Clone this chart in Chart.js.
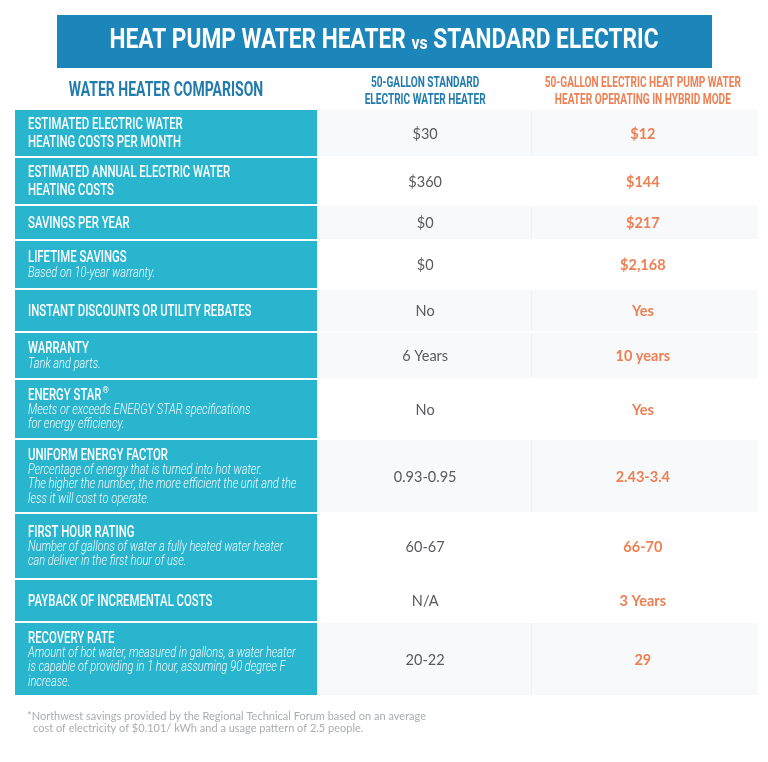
<!DOCTYPE html>
<html>
<head>
<meta charset="utf-8">
<script src="https://cdn.jsdelivr.net/npm/chart.js@4.4.1/dist/chart.umd.min.js"></script>
<style>
  html, body { margin: 0; padding: 0; background: #fff; }
  canvas { display: block; }
</style>
</head>
<body>
<canvas id="table" width="768" height="762"></canvas>
<script>
// data
const mainTitle = ["HEAT PUMP WATER HEATER ", "vs", " STANDARD ELECTRIC"];
const sectionHeader = "WATER HEATER COMPARISON";
const standardHeader = ["50-GALLON STANDARD", "ELECTRIC WATER HEATER"];
const heatPumpHeader = ["50-GALLON ELECTRIC HEAT PUMP WATER", "HEATER OPERATING IN HYBRID MODE"];

const rowTitles = [
  ["ESTIMATED ELECTRIC WATER", "HEATING COSTS PER MONTH"],
  ["ESTIMATED ANNUAL ELECTRIC WATER", "HEATING COSTS"],
  ["SAVINGS PER YEAR"],
  ["LIFETIME SAVINGS"],
  ["INSTANT DISCOUNTS OR UTILITY REBATES"],
  ["WARRANTY"],
  ["ENERGY STAR"],
  ["UNIFORM ENERGY FACTOR"],
  ["FIRST HOUR RATING"],
  ["PAYBACK OF INCREMENTAL COSTS"],
  ["RECOVERY RATE"]
];
const rowNotes = [
  [],
  [],
  [],
  ["Based on 10-year warranty."],
  [],
  ["Tank and parts."],
  ["Meets or exceeds ENERGY STAR specifications", "for energy efficiency."],
  ["Percentage of energy that is turned into hot water.",
   "The higher the number, the more efficient the unit and the",
   "less it will cost to operate."],
  ["Number of gallons of water a fully heated water heater",
   "can deliver in the first hour of use."],
  [],
  ["Amount of hot water, measured in gallons, a water heater",
   "is capable of providing in 1 hour, assuming 90 degree F",
   "increase."]
];
const standardValues = ["$30", "$360", "$0", "$0", "No", "6 Years", "No", "0.93-0.95", "60-67", "N/A", "20-22"];
const heatPumpValues = ["$12", "$144", "$217", "$2,168", "Yes", "10 years", "Yes", "2.43-3.4", "66-70", "3 Years", "29"];
const footnote = [
  "*Northwest savings provided by the Regional Technical Forum based on an average",
  "cost of electricity of $0.101/ kWh and a usage pattern of 2.5 people."
];

// layout
const rowPitch = [48, 48, 35, 49, 43, 47, 60, 74, 66, 43, 74];
const shadedRows = [0, 2, 4, 5, 7, 10];
const ROW_GAP = 2;
const LABEL_END = 40.65, COL_SPLIT = 69.45, STD_CENTER = 55.2, HP_CENTER = 84.5;
const CYAN = "rgb(42,181,207)";
const BANNER = "rgb(28,133,186)";
const HEAD_BLUE = "rgb(33,124,173)";
const ORANGE = "rgb(238,127,82)";
const COND = "Roboto, 'Liberation Sans', sans-serif";

// draws text squeezed horizontally to look like a condensed face
function squeezeText(ctx, text, x, y, font, color, align, squeeze) {
  ctx.save();
  ctx.font = font;
  ctx.fillStyle = color;
  ctx.textBaseline = "middle";
  ctx.textAlign = "left";
  const w = ctx.measureText(text).width * squeeze;
  let left = x;
  if (align === "center") left = x - w / 2;
  if (align === "right") left = x - w;
  ctx.translate(left, y);
  ctx.scale(squeeze, 1);
  ctx.fillText(text, 0, 0);
  ctx.restore();
  return w;
}

const tablePlugin = {
  id: "tableCells",
  beforeDraw(chart) {
    const ctx = chart.ctx;
    ctx.save();
    ctx.fillStyle = "#fff";
    ctx.fillRect(0, 0, chart.width, chart.height);
    ctx.restore();
  },
  beforeDatasetsDraw(chart) {
    const { ctx, scales: { x, y } } = chart;
    const xl = x.getPixelForValue(0);
    const xe = x.getPixelForValue(LABEL_END);
    const xs = x.getPixelForValue(COL_SPLIT);
    const xr = x.getPixelForValue(100);
    let start = 0;
    rowPitch.forEach((pitch, i) => {
      const top = y.getPixelForValue(start);
      const bottom = y.getPixelForValue(start + pitch) - ROW_GAP;
      const mid = (top + bottom) / 2;
      start += pitch;

      // shaded value cells
      if (shadedRows.includes(i)) {
        ctx.fillStyle = "rgba(228,234,240,0.3)";
        ctx.fillRect(xe, top, xr - xe, bottom - top);
        ctx.fillStyle = "rgba(220,226,232,0.3)";
        ctx.fillRect(xs, top, 1, bottom - top);
      }
      // label cell
      ctx.fillStyle = CYAN;
      ctx.fillRect(xl, top, xe - xl, bottom - top);

      // label text block, vertically centred
      const titles = rowTitles[i];
      const notes = rowNotes[i];
      const titleLH = 17.5, noteLH = 14.3;
      const blockH = titles.length * titleLH + notes.length * noteLH;
      let ly = mid - blockH / 2 + titleLH / 2 + 1;
      const tx = xl + 13;
      titles.forEach(t => {
        const w = squeezeText(ctx, t, tx, ly, "500 16px " + COND, "#fff", "left", 0.71);
        if (t === "ENERGY STAR") {
          squeezeText(ctx, "\u00AE", tx + w + 1, ly - 5, "400 9px " + COND, "#fff", "left", 0.9);
        }
        ly += titleLH;
      });
      ly += -titleLH / 2 + noteLH / 2 - 1;
      notes.forEach(n => {
        squeezeText(ctx, n, tx, ly, "italic 300 14px " + COND, "rgba(255,255,255,0.95)", "left", 0.79);
        ly += noteLH;
      });

      // values
      ctx.save();
      ctx.textAlign = "center";
      ctx.textBaseline = "middle";
      ctx.font = "400 14.5px Lato, 'Open Sans', sans-serif";
      ctx.fillStyle = "rgb(88,90,94)";
      ctx.fillText(standardValues[i], x.getPixelForValue(STD_CENTER), mid + 1);
      ctx.font = "700 14.5px Lato, 'Open Sans', sans-serif";
      ctx.fillStyle = ORANGE;
      ctx.fillText(heatPumpValues[i], x.getPixelForValue(HP_CENTER), mid + 1);
      ctx.restore();
    });
  },
  afterDraw(chart) {
    const { ctx, scales: { x } } = chart;
    // banner
    ctx.fillStyle = BANNER;
    ctx.fillRect(57, 15, 655, 53);
    const big = "bold 27px " + COND, small = "bold 19px " + COND;
    ctx.font = big;
    const w1 = ctx.measureText(mainTitle[0]).width;
    const w3 = ctx.measureText(mainTitle[2]).width;
    ctx.font = small;
    const w2 = ctx.measureText(mainTitle[1]).width;
    const sq = 549 / (w1 + w2 + w3);
    let tx = 384 - 549 / 2;
    tx += squeezeText(ctx, mainTitle[0], tx, 41, big, "#fff", "left", sq);
    tx += squeezeText(ctx, mainTitle[1], tx, 44, small, "#fff", "left", sq);
    squeezeText(ctx, mainTitle[2], tx, 41, big, "#fff", "left", sq);

    // column headers
    squeezeText(ctx, sectionHeader, (x.getPixelForValue(0) + x.getPixelForValue(LABEL_END)) / 2, 91,
      "bold 20px " + COND, HEAD_BLUE, "center", 0.7);
    standardHeader.forEach((t, k) => {
      squeezeText(ctx, t, x.getPixelForValue(STD_CENTER), 83 + k * 17, "bold 14px " + COND, HEAD_BLUE, "center", 0.72);
    });
    heatPumpHeader.forEach((t, k) => {
      squeezeText(ctx, t, x.getPixelForValue(HP_CENTER), 83 + k * 17, "bold 14px " + COND, ORANGE, "center", 0.72);
    });

    // footnote
    ctx.save();
    ctx.font = "400 11px Lato, 'Open Sans', sans-serif";
    ctx.fillStyle = "rgb(170,173,177)";
    ctx.textBaseline = "middle";
    ctx.textAlign = "left";
    ctx.fillText(footnote[0], 27, 716);
    ctx.fillText(footnote[1], 33, 728);
    ctx.restore();
  }
};

new Chart(document.getElementById("table"), {
  type: "scatter",
  data: { datasets: [] },
  options: {
    responsive: false,
    animation: false,
    layout: { padding: { left: 15, right: 10, top: 110, bottom: 65 } },
    plugins: { legend: { display: false }, tooltip: { enabled: false }, title: { display: false } },
    scales: {
      x: { type: "linear", min: 0, max: 100, display: false },
      y: { type: "linear", min: 0, max: rowPitch.reduce((a, b) => a + b, 0), reverse: true, display: false }
    }
  },
  plugins: [tablePlugin]
});
</script>
</body>
</html>
